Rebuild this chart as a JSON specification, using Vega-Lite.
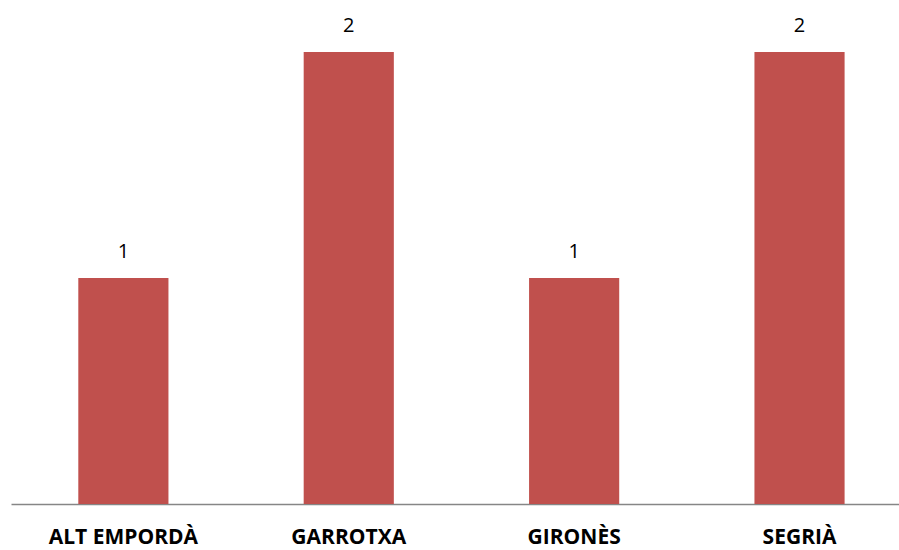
{
  "$schema": "https://vega.github.io/schema/vega-lite/v6.json",
  "autosize": {"type": "none"},
  "width": 888,
  "height": 452,
  "padding": {"left": 11, "top": 52, "right": 0, "bottom": 46},
  "background": "white",
  "config": {"view": {"stroke": null}, "font": "Open Sans"},
  "data": {"values": [
    {"comarca": "ALT EMPORDÀ", "n": 1},
    {"comarca": "GARROTXA", "n": 2},
    {"comarca": "GIRONÈS", "n": 1},
    {"comarca": "SEGRIÀ", "n": 2}
  ]},
  "encoding": {
    "x": {"field": "comarca", "type": "nominal", "sort": null,
      "scale": {"paddingInner": 0.6, "paddingOuter": 0.27, "align": 0.553},
      "axis": {"title": null, "labelAngle": 0, "ticks": false, "domainColor": "#868686", "domainWidth": 1.5,
        "labelFont": "Open Sans", "labelFontWeight": "bold", "labelFontSize": 21, "labelColor": "#000000", "labelPadding": 22}},
    "y": {"field": "n", "type": "quantitative", "scale": {"domain": [0, 2]}, "axis": null}
  },
  "layer": [
    {"mark": {"type": "bar", "color": "#C0504D"}},
    {"mark": {"type": "text", "dy": -26, "fontSize": 20, "font": "Open Sans", "color": "#000000"},
     "encoding": {"text": {"field": "n", "type": "quantitative"}}}
  ]
}
